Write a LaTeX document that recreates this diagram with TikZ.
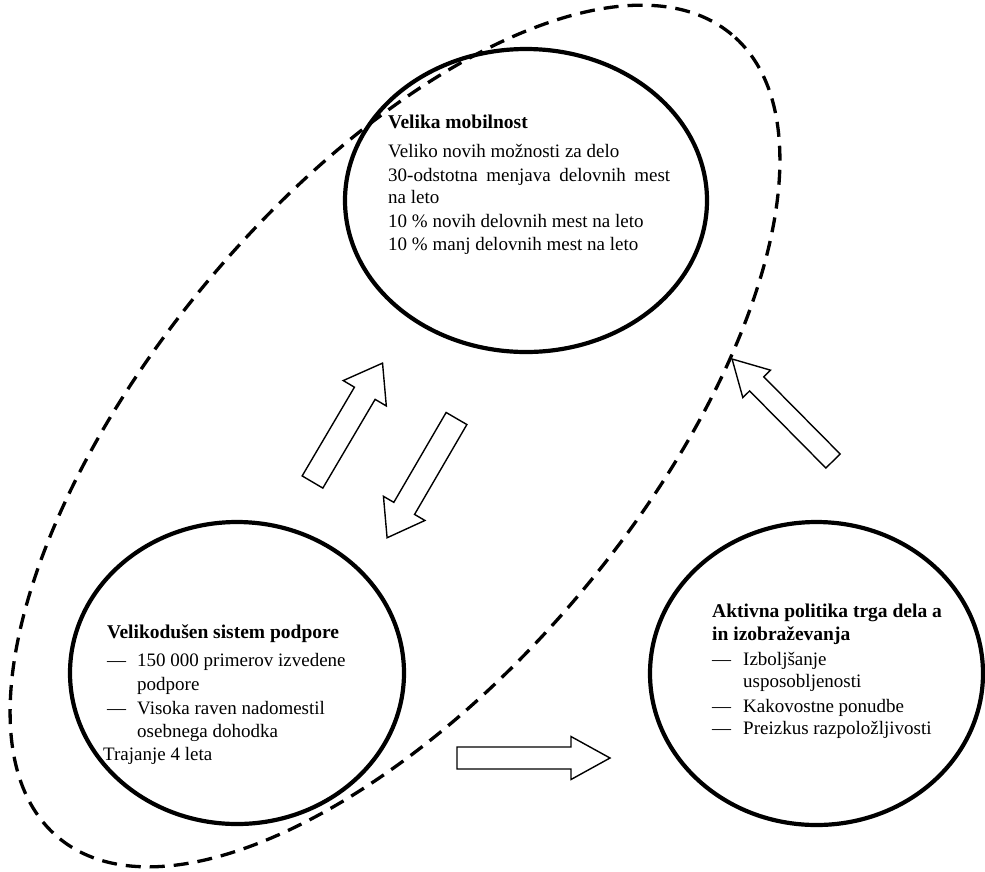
\documentclass[tikz,border=0pt]{standalone}
\usepackage{fontspec}
\setmainfont{Liberation Serif}
\usetikzlibrary{shapes.geometric}
\tikzset{
  bubble/.style={ellipse, draw=black, line width=4.2pt, inner sep=0pt},
  groupline/.style={ellipse, draw=black, line width=3.3pt, dash pattern=on 15pt off 9pt, inner sep=0pt},
  txt/.style={anchor=base west, inner sep=0pt, font=\fontsize{19}{23}\selectfont},
  ttl/.style={txt, font=\fontsize{19.5}{23}\selectfont\bfseries},
  arrowline/.style={draw=black, line width=1.4pt, line join=miter, fill=white}
}
\newcommand{\fatarrow}[6]{%
  \draw[arrowline, shift={#1}, rotate=#2]
    (0,{#4/2}) -- ({#3-#6},{#4/2}) -- ({#3-#6},{#5/2}) -- (#3,0)
    -- ({#3-#6},{-#5/2}) -- ({#3-#6},{-#4/2}) -- (0,{-#4/2}) -- cycle;}
\begin{document}
\begin{tikzpicture}[x=1pt, y=-1pt]
\useasboundingbox (0,0) rectangle (985,871);

% dashed group outline
\node[groupline, rotate=50, minimum width=1048pt, minimum height=486pt] (grp) at (395,436) {};

% main ellipses
\node[bubble, minimum width=362pt, minimum height=303pt] (mob) at (526,200.5) {};
\node[bubble, minimum width=334pt, minimum height=302pt] (sup) at (237,673) {};
\node[bubble, minimum width=333pt, minimum height=303pt] (act) at (816.5,673.5) {};

% top text
\node[ttl] (m0) at (388,128) {Velika mobilnost};
\node[txt] (m1) at (388,157) {Veliko novih možnosti za delo};
\node[txt] (m2) at (388,181) {\makebox[282pt][s]{30-odstotna menjava delovnih mest}};
\node[txt] (m3) at (388,203) {na leto};
\node[txt] (m4) at (388,227) {10 \% novih delovnih mest na leto};
\node[txt] (m5) at (388,250) {10 \% manj delovnih mest na leto};

% left text
\node[ttl] (s0) at (107,638) {Velikodušen sistem podpore};
\node[txt] (s1d) at (107,666) {—};
\node[txt] (s1) at (137,666) {150 000 primerov izvedene};
\node[txt] (s2) at (137,690) {podpore};
\node[txt] (s3d) at (107,714) {—};
\node[txt] (s3) at (137,714) {Visoka raven nadomestil};
\node[txt] (s4) at (137,737) {osebnega dohodka};
\node[txt] (s5) at (103,760) {Trajanje 4 leta};

% right text
\node[ttl] (a0) at (712,617) {Aktivna politika trga dela a};
\node[ttl] (a1) at (712,640) {in izobraževanja};
\node[txt] (a2d) at (712,665) {—};
\node[txt] (a2) at (743,665) {Izboljšanje};
\node[txt] (a3) at (743,687) {usposobljenosti};
\node[txt] (a4d) at (712,712) {—};
\node[txt] (a4) at (743,712) {Kakovostne ponudbe};
\node[txt] (a5d) at (712,734) {—};
\node[txt] (a5) at (743,734) {Preizkus razpoložljivosti};

% block arrows
\fatarrow{(312.5,482)}{59.5}{138}{24}{50}{35}
\fatarrow{(456.5,418.5)}{239.8}{138}{24}{48}{34}
\fatarrow{(457,758)}{0}{153}{22}{43}{39}
\fatarrow{(833,461)}{134.7}{143.5}{20}{39}{35}
\end{tikzpicture}
\end{document}
